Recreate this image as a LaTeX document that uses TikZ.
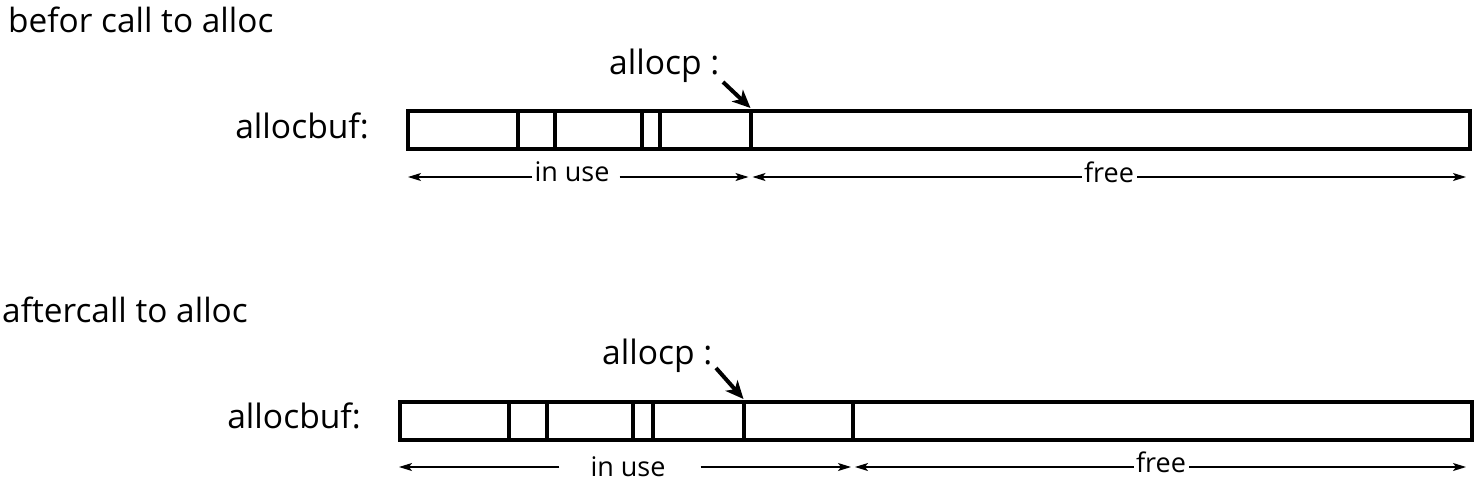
\documentclass[tikz,border=0pt]{standalone}
\usepackage{fontspec}
\setmainfont{Open Sans}
\usetikzlibrary{arrows.meta}
\begin{document}
\begin{tikzpicture}[x=1pt,y=-1pt,
  title/.style={anchor=base west, inner sep=0pt, font=\fontsize{33.4}{38}\selectfont},
  buflabel/.style={anchor=base east, inner sep=0pt, font=\fontsize{33.6}{38}\selectfont},
  ptrlabel/.style={anchor=base west, inner sep=0pt, font=\fontsize{33.6}{38}\selectfont},
  dimlabel/.style={anchor=base, inner sep=0pt, font=\fontsize{27}{32}\selectfont},
  bufbox/.style={draw, line width=4pt, rectangle, inner sep=0pt, anchor=north west},
  divider/.style={line width=4pt},
  ptrarrow/.style={line width=4pt, -{Stealth[length=18pt, width=16pt, inset=5pt]}},
  dimarrow/.style={line width=1.3pt, -{Stealth[length=13pt, width=8pt, inset=3pt]}}
]
\useasboundingbox (0,0) rectangle (1474,483);

% ---------- before ----------
\node[title] (titleA) at (8,32) {befor call to alloc};
\node[buflabel] (labA) at (369,138) {allocbuf:};
\node[ptrlabel] (pA) at (609,74) {allocp :};
\node[bufbox, minimum width=1062pt, minimum height=38pt] (bufA) at (406,109) {};
\foreach \x in {517.5,555,642,660,750.5}
  \draw[divider] (\x,109) -- (\x,147);
\coordinate (pAtail) at (723,82);
\coordinate (pAtip) at (750.5,108);
\draw[ptrarrow] (pAtail) -- (pAtip);

\coordinate (aL) at (406,177);
\coordinate (aM) at (750.5,177);
\coordinate (aR) at (1466,177);
\node[dimlabel] (iuA) at (572,181) {in use};
\node[dimlabel] (frA) at (1109,182) {free};
\draw[dimarrow] ([xshift=-2pt]iuA.west |- aL) -- ([xshift=2pt]aL);
\draw[dimarrow] ([xshift=10pt]iuA.east |- aL) -- ([xshift=-2pt]aM);
\draw[dimarrow] ([xshift=-2pt]frA.west |- aL) -- ([xshift=2pt]aM);
\draw[dimarrow] ([xshift=3pt]frA.east |- aL) -- (aR);

% ---------- after ----------
\node[title] (titleB) at (2,322) {aftercall to alloc};
\node[buflabel] (labB) at (361,428) {allocbuf:};
\node[ptrlabel] (pB) at (602,364) {allocp :};
\node[bufbox, minimum width=1072pt, minimum height=37.5pt] (bufB) at (398,400) {};
\foreach \x in {509,546.5,633,652.5,743.5,853}
  \draw[divider] (\x,400) -- (\x,437.5);
\coordinate (pBtail) at (716,368);
\coordinate (pBtip) at (743.5,399);
\draw[ptrarrow] (pBtail) -- (pBtip);

\coordinate (bL) at (398,467);
\coordinate (bM) at (853,467);
\coordinate (bR) at (1466,467);
\node[dimlabel] (iuB) at (628,476) {in use};
\node[dimlabel] (frB) at (1161,472) {free};
\draw[dimarrow] ([xshift=-31pt]iuB.west |- bL) -- ([xshift=1pt]bL);
\draw[dimarrow] ([xshift=35pt]iuB.east |- bL) -- ([xshift=-2pt]bM);
\draw[dimarrow] ([xshift=-2pt]frB.west |- bL) -- ([xshift=2pt]bM);
\draw[dimarrow] ([xshift=3pt]frB.east |- bL) -- (bR);
\end{tikzpicture}
\end{document}
